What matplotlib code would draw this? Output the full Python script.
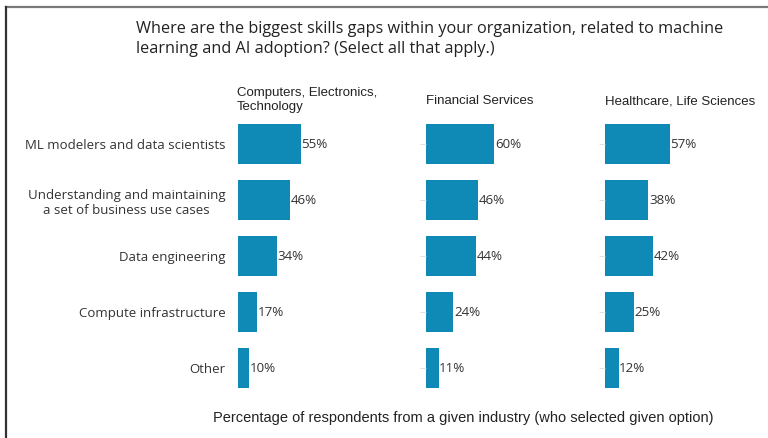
import matplotlib.pyplot as plt
from matplotlib.lines import Line2D

CATEGORIES = ['ML modelers and data scientists',
              'Understanding and maintaining\na set of business use cases',
              'Data engineering',
              'Compute infrastructure',
              'Other']
INDUSTRIES = ['Computers, Electronics,\nTechnology', 'Financial Services', 'Healthcare, Life Sciences']
SHARES = [
    [55, 46, 34, 17, 10],
    [60, 46, 44, 24, 11],
    [57, 38, 42, 25, 12],
]

TITLE = ('Where are the biggest skills gaps within your organization, related to machine\n'
         'learning and AI adoption? (Select all that apply.)')
XLABEL = 'Percentage of respondents from a given industry (who selected given option)'

BAR_COLOR = '#0f8ab6'
W, H = 768, 438

fig = plt.figure(figsize=(W / 100, H / 100), dpi=100)

def fx(px):
    return px / W

def fy(py):
    return 1 - py / H

# frame lines along the top and left edge
fig.add_artist(Line2D([fx(6), 1], [fy(7), fy(7)], color='#7a7a7a', lw=1.6))
fig.add_artist(Line2D([fx(6), fx(6)], [fy(7), 0], color='#333333', lw=1.6))

fig.text(fx(136), fy(39), TITLE, ha='left', va='center', fontsize=11.7,
         family='Open Sans', color='#222222', linespacing=1.3)

lefts = [238, 426, 605]
ax_w = 150
for k, (left, name, vals) in enumerate(zip(lefts, INDUSTRIES, SHARES)):
    ax = fig.add_axes([fx(left), fy(396), fx(ax_w), 280 / H])
    pos = range(len(CATEGORIES))
    ax.barh(pos, vals, height=0.71, color=BAR_COLOR)
    ax.set_ylim(4.5, -0.5)
    ax.set_xlim(0, ax_w / 1.14)
    for p, v in zip(pos, vals):
        ax.text(v + 0.5, p, f'{v}%', va='center', ha='left', fontsize=9.6,
                family='Open Sans', color='#333333')
    for s in ax.spines.values():
        s.set_visible(False)
    ax.set_xticks([])
    ax.set_yticks(list(pos))
    if k == 0:
        ax.set_yticklabels(CATEGORIES, fontsize=9.5, family='Open Sans', color='#333333',
                           multialignment='center', linespacing=1.25)
        ax.tick_params(axis='y', length=0, pad=9)
    else:
        ax.set_yticklabels([])
        ax.tick_params(axis='y', length=4, width=0.6, color='#dddddd', pad=6)
    ax.patch.set_alpha(0)
    if k == 0:
        fig.text(fx(left - 1), fy(100), name, ha='left', va='center', fontsize=9.5,
                 family='Liberation Sans', color='#222222', linespacing=1.2)
    else:
        fig.text(fx(left), fy(101), name, ha='left', va='center', fontsize=9.5,
                 family='Liberation Sans', color='#222222')

fig.text(fx(463), fy(418), XLABEL, ha='center', va='center', fontsize=10.5,
         family='Liberation Sans', color='#222222')

fig.savefig('out.png', dpi=100, facecolor='white')
